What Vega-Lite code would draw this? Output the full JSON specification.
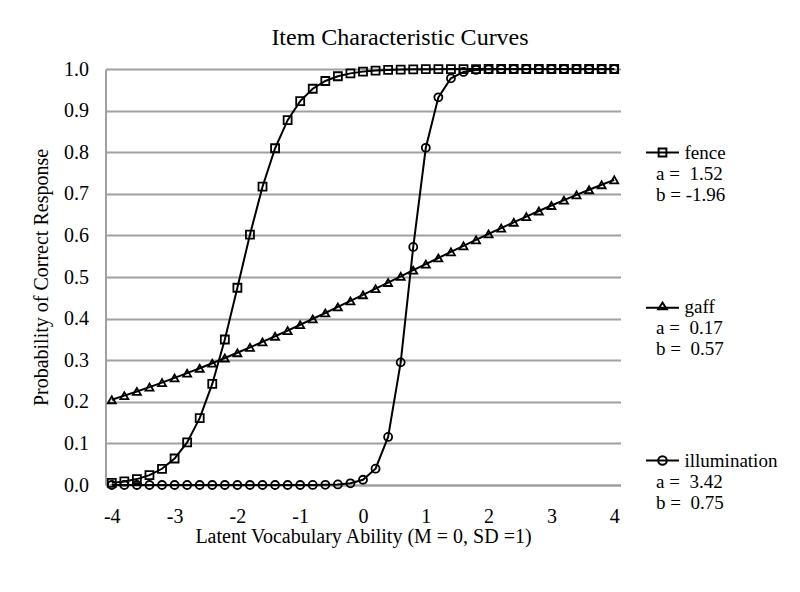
{
  "$schema": "https://vega.github.io/schema/vega-lite/v6.json",
  "width": 515,
  "height": 416,
  "autosize": {"type": "none"},
  "padding": {"left": 105.5, "top": 69, "right": 179.5, "bottom": 107},
  "background": "white",
  "title": {"text": "Item Characteristic Curves", "font": "Liberation Serif", "fontSize": 24, "fontWeight": "normal", "color": "black", "anchor": "middle", "dx": 37, "offset": 9},
  "data": {"values": [
    {"x": -4.0, "fence": 0.0051, "gaff": 0.2049, "illumination": 0},
    {"x": -3.8, "fence": 0.0085, "gaff": 0.2148, "illumination": 0},
    {"x": -3.6, "fence": 0.0142, "gaff": 0.2249, "illumination": 0},
    {"x": -3.4, "fence": 0.0236, "gaff": 0.2354, "illumination": 0},
    {"x": -3.2, "fence": 0.0390, "gaff": 0.2462, "illumination": 0},
    {"x": -3.0, "fence": 0.0637, "gaff": 0.2574, "illumination": 0},
    {"x": -2.8, "fence": 0.1024, "gaff": 0.2688, "illumination": 0},
    {"x": -2.6, "fence": 0.1606, "gaff": 0.2806, "illumination": 0},
    {"x": -2.4, "fence": 0.2429, "gaff": 0.2927, "illumination": 0},
    {"x": -2.2, "fence": 0.3498, "gaff": 0.3052, "illumination": 0},
    {"x": -2.0, "fence": 0.4742, "gaff": 0.3178, "illumination": 0},
    {"x": -1.8, "fence": 0.6018, "gaff": 0.3308, "illumination": 0},
    {"x": -1.6, "fence": 0.7171, "gaff": 0.3440, "illumination": 0},
    {"x": -1.4, "fence": 0.8095, "gaff": 0.3575, "illumination": 0},
    {"x": -1.2, "fence": 0.8770, "gaff": 0.3712, "illumination": 0},
    {"x": -1.0, "fence": 0.9228, "gaff": 0.3852, "illumination": 0.0000},
    {"x": -0.8, "fence": 0.9525, "gaff": 0.3993, "illumination": 0.0001},
    {"x": -0.6, "fence": 0.9711, "gaff": 0.4135, "illumination": 0.0004},
    {"x": -0.4, "fence": 0.9826, "gaff": 0.4280, "illumination": 0.0013},
    {"x": -0.2, "fence": 0.9895, "gaff": 0.4425, "illumination": 0.0040},
    {"x": 0.0, "fence": 0.9937, "gaff": 0.4572, "illumination": 0.0126},
    {"x": 0.2, "fence": 0.9962, "gaff": 0.4719, "illumination": 0.0392},
    {"x": 0.4, "fence": 0.9978, "gaff": 0.4867, "illumination": 0.1156},
    {"x": 0.6, "fence": 0.9987, "gaff": 0.5015, "illumination": 0.2948},
    {"x": 0.8, "fence": 0.9992, "gaff": 0.5163, "illumination": 0.5722},
    {"x": 1.0, "fence": 0.9995, "gaff": 0.5310, "illumination": 0.8106},
    {"x": 1.2, "fence": 0.9997, "gaff": 0.5457, "illumination": 0.9319},
    {"x": 1.4, "fence": 0.9998, "gaff": 0.5604, "illumination": 0.9777},
    {"x": 1.6, "fence": 0.9999, "gaff": 0.5749, "illumination": 0.9929},
    {"x": 1.8, "fence": 0.9999, "gaff": 0.5893, "illumination": 0.9978},
    {"x": 2.0, "fence": 1.0, "gaff": 0.6036, "illumination": 0.9993},
    {"x": 2.2, "fence": 1.0, "gaff": 0.6176, "illumination": 0.9998},
    {"x": 2.4, "fence": 1.0, "gaff": 0.6315, "illumination": 1.0},
    {"x": 2.6, "fence": 1.0, "gaff": 0.6452, "illumination": 1.0},
    {"x": 2.8, "fence": 1.0, "gaff": 0.6586, "illumination": 1.0},
    {"x": 3.0, "fence": 1.0, "gaff": 0.6718, "illumination": 1.0},
    {"x": 3.2, "fence": 1.0, "gaff": 0.6847, "illumination": 1.0},
    {"x": 3.4, "fence": 1.0, "gaff": 0.6974, "illumination": 1.0},
    {"x": 3.6, "fence": 1.0, "gaff": 0.7097, "illumination": 1.0},
    {"x": 3.8, "fence": 1.0, "gaff": 0.7217, "illumination": 1.0},
    {"x": 4.0, "fence": 1.0, "gaff": 0.7335, "illumination": 1.0}
  ]},
  "transform": [{"fold": ["fence", "gaff", "illumination"], "as": ["item", "p"]}],
  "encoding": {
    "x": {
      "field": "x", "type": "quantitative",
      "scale": {"domain": [-4.1, 4.1], "nice": false, "zero": false},
      "title": "Latent Vocabulary Ability (M = 0, SD =1)",
      "axis": {"values": [-4, -3, -2, -1, 0, 1, 2, 3, 4], "labelExpr": "'' + datum.value", "grid": false, "ticks": false, "tickSize": 0, "labelPadding": 21, "labelFontSize": 20, "titleFontSize": 20, "titlePadding": 0, "domainColor": "#a0a0a0", "domainWidth": 2}
    },
    "y": {
      "field": "p", "type": "quantitative",
      "scale": {"domain": [0, 1], "nice": false},
      "title": "Probability of Correct Response",
      "axis": {"values": [0, 0.1, 0.2, 0.3, 0.4, 0.5, 0.6, 0.7, 0.8, 0.9, 1.0], "format": ".1f", "grid": true, "ticks": false, "tickSize": 0, "labelPadding": 17, "labelFontSize": 20, "titleFontSize": 20, "titlePadding": 12, "domainColor": "#a0a0a0", "domainWidth": 2, "gridColor": "#a0a0a0", "gridWidth": 2}
    }
  },
  "layer": [
    {"mark": {"type": "line", "color": "black", "strokeWidth": 2}, "encoding": {"detail": {"field": "item"}}},
    {"mark": {"type": "point", "filled": false, "color": "black", "strokeWidth": 1.8, "size": 64, "opacity": 1},
     "encoding": {"shape": {"field": "item", "type": "nominal",
       "scale": {"domain": ["fence", "gaff", "illumination"], "range": ["square", "triangle-up", "circle"]},
       "legend": null}}},
    {"transform": [{"filter": "false"}],
     "mark": {"type": "point", "filled": false, "color": "black", "strokeWidth": 2, "opacity": 1},
     "encoding": {"shape": {"field": "item", "type": "nominal",
       "scale": {"domain": ["fence", "gaff", "illumination"], "range": ["M-1,0H1M-0.235,-0.235H0.235V0.235H-0.235Z", "M-1,0.08H1M0,-0.24L0.26,0.16H-0.26Z", "M-1,0H1M0.26,0A0.26,0.26,0,1,1,-0.26,0A0.26,0.26,0,1,1,0.26,0Z"]},
       "legend": {
         "orient": "none", "legendX": 539.5, "legendY": 66, "title": null, "padding": 0,
         "symbolSize": 1089, "symbolStrokeWidth": 2, "symbolStrokeColor": "black", "symbolFillColor": "transparent", "symbolOpacity": 1,
         "labelFont": "Liberation Serif", "labelFontSize": 19, "labelColor": "black", "labelOffset": -24, "labelLimit": 0, "rowPadding": 84,
         "labelExpr": "datum.value === 'fence' ? ['\u200b\u00a0\u00a0\u00a0\u00a0\u00a0\u00a0fence', 'a =\u00a0\u00a01.52', 'b = -1.96'] : datum.value === 'gaff' ? ['\u200b\u00a0\u00a0\u00a0\u00a0\u00a0\u00a0gaff', 'a =\u00a0\u00a00.17', 'b =\u00a0\u00a00.57'] : ['\u200b\u00a0\u00a0\u00a0\u00a0\u00a0\u00a0illumination', 'a =\u00a0\u00a03.42', 'b =\u00a0\u00a00.75']",
         "encode": {"labels": {"update": {"lineHeight": {"value": 25}}}}
       }}}}
  ],
  "resolve": {"scale": {"shape": "independent"}, "legend": {"shape": "independent"}},
  "config": {
    "view": {"stroke": null},
    "font": "Liberation Serif",
    "axis": {"labelFont": "Liberation Serif", "titleFont": "Liberation Serif", "labelColor": "black", "titleColor": "black", "titleFontWeight": "normal"}
  }
}
